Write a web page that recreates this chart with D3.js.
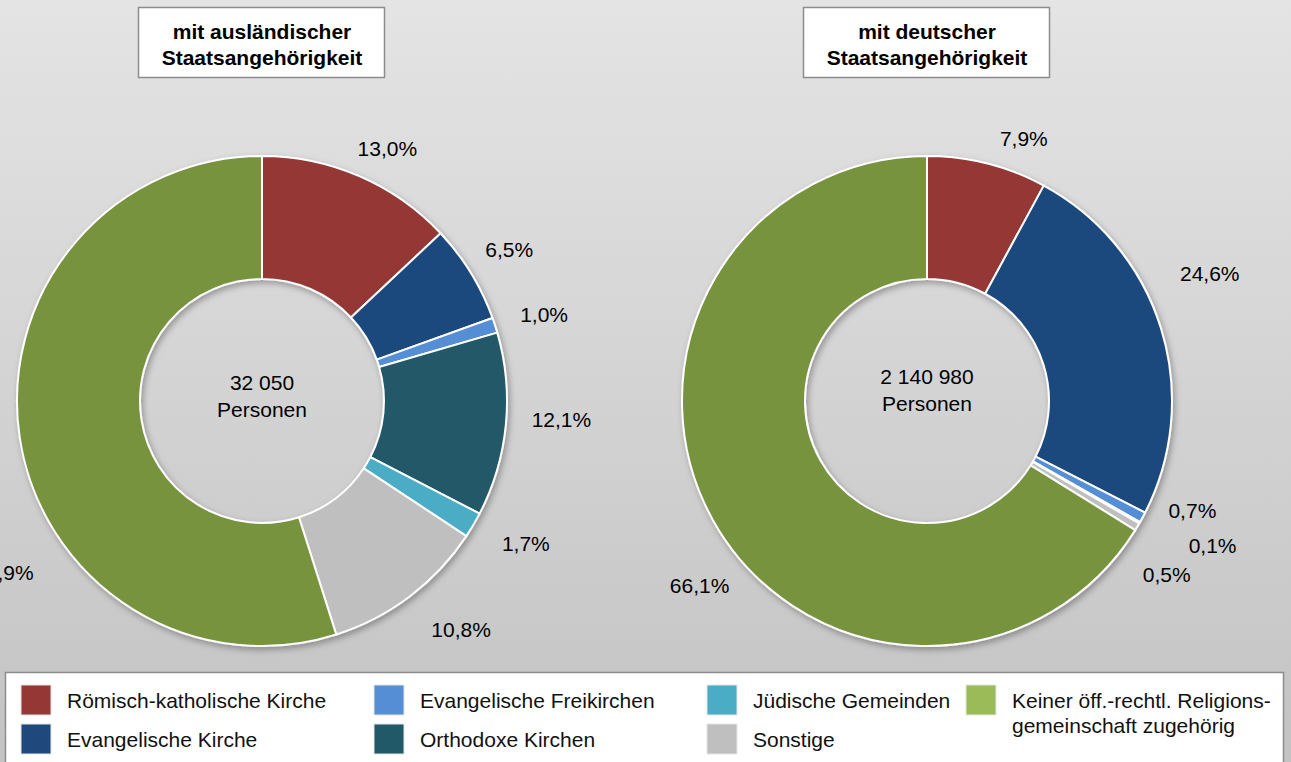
<!DOCTYPE html>
<html>
<head>
<meta charset="utf-8">
<script src="https://cdn.jsdelivr.net/npm/d3@7"></script>
<style>
  body { margin: 0; overflow: hidden; }
  svg { display: block; font-family: "Liberation Sans", Arial, sans-serif; }
</style>
</head>
<body>
<svg width="1291" height="762"></svg>
<script>
// categories and shares (percent)
var categories = ["Römisch-katholische Kirche", "Evangelische Kirche", "Evangelische Freikirchen",
                  "Orthodoxe Kirchen", "Jüdische Gemeinden", "Sonstige",
                  "Keiner öff.-rechtl. Religions-|gemeinschaft zugehörig"];
var auslaendisch = [13.0, 6.5, 1.0, 12.1, 1.7, 10.8, 54.9];
var deutsch = [7.9, 24.6, 0.7, 0.1, 0.0, 0.5, 66.1];
var totals = ["32 050", "2 140 980"];
var titles = [["mit ausländischer", "Staatsangehörigkeit"], ["mit deutscher", "Staatsangehörigkeit"]];

var sliceColors = ["#953735", "#1f497d", "#558ed5", "#215968", "#4bacc6", "#bfbfbf", "#77933c"];
var legendColors = ["#953735", "#1f497d", "#558ed5", "#215968", "#4bacc6", "#bfbfbf", "#9bbb59"];

var svg = d3.select("svg"),
    width = +svg.attr("width"),
    height = +svg.attr("height");

var defs = svg.append("defs");
var grad = defs.append("linearGradient").attr("id", "bg")
    .attr("x1", 0).attr("y1", 0).attr("x2", 0).attr("y2", 1);
grad.append("stop").attr("offset", "0%").attr("stop-color", "#e4e4e4");
grad.append("stop").attr("offset", "100%").attr("stop-color", "#c3c3c3");

var shadow = defs.append("filter").attr("id", "shadow")
    .attr("x", "-10%").attr("y", "-10%").attr("width", "120%").attr("height", "120%");
shadow.append("feDropShadow").attr("dx", 2).attr("dy", 3).attr("stdDeviation", 3)
    .attr("flood-color", "#000").attr("flood-opacity", 0.3);

svg.append("rect").attr("width", width).attr("height", height).attr("fill", "url(#bg)");

var outerR = 245, innerR = 122;
var centers = [[262, 401], [927, 401]];
// small angular nudges (degrees) and radii for labels, like the original's "best fit"
var nudges = [[3, 0, 1, -2, -2, -4, -24.8], [6, -7, -6, -3, 0, 5, -10]];
var labelRs = [[282, 290, 295, 300, 300, 303, 310], [280, 310, 287, 320, 0, 296, 293]];

var pie = d3.pie().sort(null).value(function(d) { return d; });
var arc = d3.arc().innerRadius(innerR).outerRadius(outerR);
var fmt = function(v) { return d3.format(".1f")(v).replace(".", ",") + "%"; };

[auslaendisch, deutsch].forEach(function(series, k) {
  var g = svg.append("g").attr("transform", "translate(" + centers[k][0] + "," + centers[k][1] + ")");
  var arcs = pie(series);

  g.append("g").attr("filter", "url(#shadow)")
    .selectAll("path")
    .data(arcs.filter(function(d) { return d.value > 0; }))
    .enter().append("path")
      .attr("d", arc)
      .attr("fill", function(d) { return sliceColors[d.index]; })
      .attr("stroke", "#fff")
      .attr("stroke-width", 2)
      .attr("stroke-linejoin", "round");

  g.selectAll("text.pct")
    .data(arcs.filter(function(d) { return d.value > 0; }))
    .enter().append("text")
      .attr("class", "pct")
      .attr("text-anchor", "middle")
      .attr("dy", "0.35em")
      .attr("font-size", 21)
      .attr("fill", "#000")
      .attr("x", function(d) {
        var a = (d.startAngle + d.endAngle) / 2 + nudges[k][d.index] * Math.PI / 180;
        return labelRs[k][d.index] * Math.sin(a);
      })
      .attr("y", function(d) {
        var a = (d.startAngle + d.endAngle) / 2 + nudges[k][d.index] * Math.PI / 180;
        return -labelRs[k][d.index] * Math.cos(a);
      })
      .text(function(d) { return fmt(d.value); });

  var ct = g.append("text").attr("text-anchor", "middle").attr("font-size", 21);
  ct.append("tspan").attr("x", 0).attr("y", k == 0 ? -11 : -17).text(totals[k]);
  ct.append("tspan").attr("x", 0).attr("y", k == 0 ? 16 : 10).text("Personen");

  // title box
  var tb = svg.append("g").attr("transform", "translate(" + centers[k][0] + ",0)");
  tb.append("rect").attr("x", -123.5).attr("y", 7.5).attr("width", 246).attr("height", 70)
    .attr("fill", "#fff").attr("stroke", "#8c8c8c").attr("stroke-width", 1.5);
  var tt = tb.append("text").attr("text-anchor", "middle").attr("font-size", 21)
    .attr("font-weight", "bold");
  titles[k].forEach(function(line, i) {
    tt.append("tspan").attr("x", 0).attr("y", 39 + i * 26).text(line);
  });
});

// legend
var lg = svg.append("g");
lg.append("rect").attr("x", 5.5).attr("y", 672.5).attr("width", 1278).attr("height", 100)
  .attr("fill", "#fff").attr("stroke", "#8c8c8c").attr("stroke-width", 1.5);

var colX = [21, 374, 707, 966];
var slots = [[0, 0], [0, 1], [1, 0], [1, 1], [2, 0], [2, 1], [3, 0]];
var legendItems = lg.selectAll("g.item")
  .data(categories)
  .enter().append("g")
    .attr("class", "item")
    .attr("transform", function(d, i) {
      return "translate(" + colX[slots[i][0]] + "," + (685 + slots[i][1] * 39) + ")";
    });

legendItems.append("rect")
  .attr("width", 30).attr("height", 30)
  .attr("fill", function(d, i) { return legendColors[i]; })
  .attr("stroke", "#e6e6e6").attr("stroke-width", 1);

legendItems.append("text")
  .attr("font-size", 21)
  .attr("fill", "#111")
  .each(function(d) {
    var lines = d.split("|");
    var t = d3.select(this);
    lines.forEach(function(l, j) {
      t.append("tspan").attr("x", 46).attr("y", 23 + j * 25).text(l);
    });
  });
</script>
</body>
</html>
